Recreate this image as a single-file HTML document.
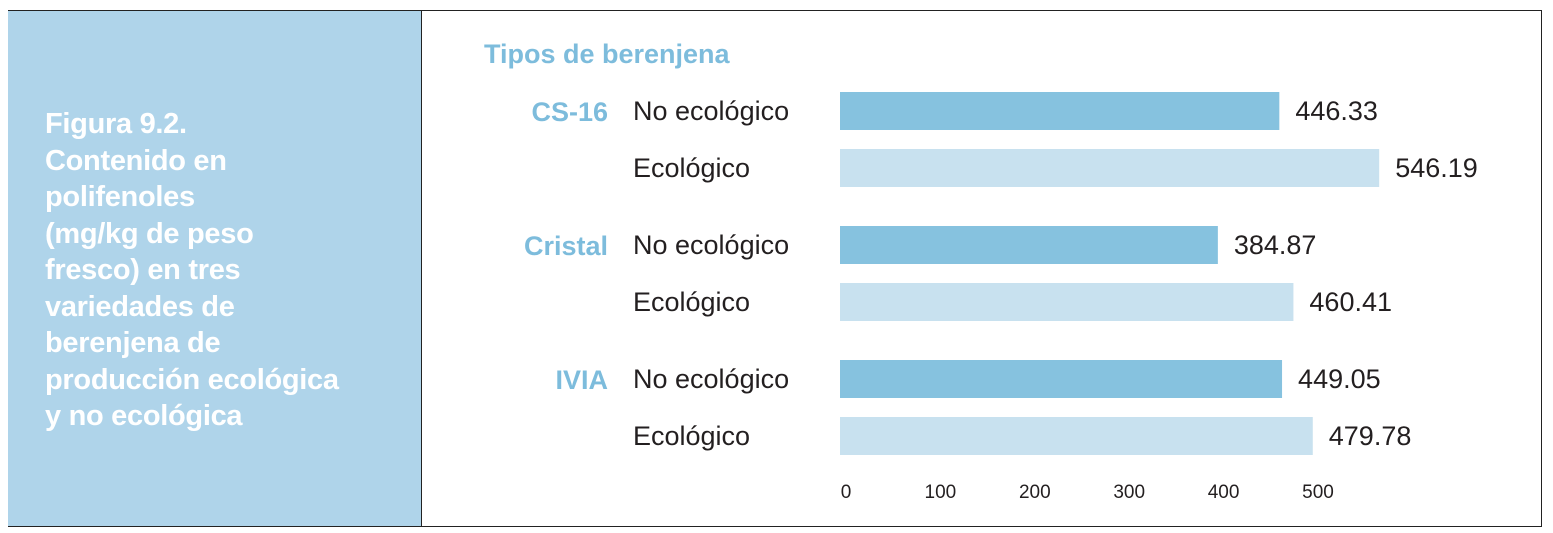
<!DOCTYPE html>
<html><head><meta charset="utf-8"><style>
body{margin:0;width:1553px;height:533px;background:#fff;font-family:"Liberation Sans",sans-serif;position:relative;overflow:hidden}
#panel{position:absolute;left:8px;top:10px;width:413px;height:517px;background:#afd4ea;border-top:1.5px solid #222;border-bottom:1.5px solid #222;box-sizing:border-box}
#frame{position:absolute;left:421px;top:10px;width:1121px;height:517px;border:1.5px solid #222;box-sizing:border-box}
#title{position:absolute;left:45px;top:106px;color:#fff;font-weight:bold;font-size:29px;line-height:36.5px;letter-spacing:-0.3px}
</style></head><body>
<div id="panel"></div>
<div id="frame"></div>
<div id="title">Figura 9.2.<br>Contenido en<br>polifenoles<br>(mg/kg de peso<br>fresco) en tres<br>variedades de<br>berenjena de<br>producción ecológica<br>y no ecológica</div>
<svg id="chart" width="1553" height="533" style="position:absolute;left:0;top:0">
<text x="484" y="63" font-size="27" font-weight="bold" fill="#7dbcdc">Tipos de berenjena</text>
</svg>
<script>
const varieties=["CS-16","Cristal","IVIA"];
const types=["No ecológico","Ecológico"];
const noEco=[446.33,384.87,449.05];
const eco=[546.19,460.41,479.78];
const ticks=[0,100,200,300,400,500];
const svg=document.getElementById('chart');
const NS='http://www.w3.org/2000/svg';
function xBar(v){return 833+v*1.0;}
function xTick(v){return 846+v*0.944;}
function yGroup(i){return 92+i*134;}
function mk(tag,attrs,txt){const e=document.createElementNS(NS,tag);for(const k in attrs)e.setAttribute(k,attrs[k]);if(txt!=null)e.textContent=txt;svg.appendChild(e);return e;}
varieties.forEach((v,i)=>{
  const y0=yGroup(i);
  const g=mk('text',{x:608,y:y0+29,'font-size':27,'font-weight':'bold',fill:'#7dbcdc','text-anchor':'end'},v);
  
  
  [noEco[i],eco[i]].forEach((val,j)=>{
    const y=y0+j*57;
    const l=mk('text',{x:633,y:y+28,'font-size':27,fill:'#231f20'},types[j]);
    
    
    const r=mk('rect',{x:840,y:y,width:xBar(val)-840,height:38,fill:j==0?'#86c2df':'#c8e1ef'});
    
    
    const t=mk('text',{x:xBar(val)+16,y:y+28,'font-size':27,fill:'#231f20'},val.toFixed(2));
    
    
  });
});
ticks.forEach(t=>{
  const e=mk('text',{x:xTick(t),y:498,'font-size':19,fill:'#231f20','text-anchor':'middle'},String(t));
  
  
});
</script>
</body></html>
